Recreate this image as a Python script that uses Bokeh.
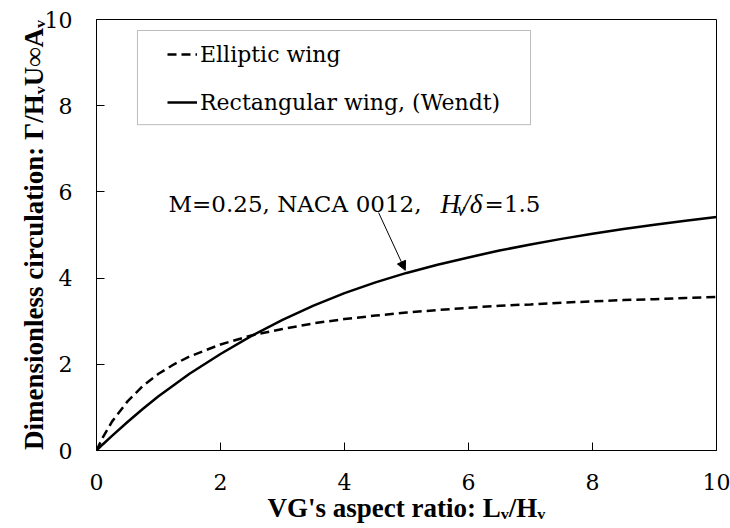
from bokeh.plotting import figure
from bokeh.models import (Range1d, Legend, LegendItem, BoxAnnotation, Arrow,
                          NormalHead, FixedTicker)
from bokeh.core.properties import value
from bokeh.embed import file_html
from bokeh.resources import INLINE

# ---- data ----
aspect_ratio = [0, 0.1, 0.25, 0.5, 0.75, 1, 1.25, 1.5, 2, 2.5, 3, 3.5, 4, 4.5, 5,
                5.5, 6, 6.5, 7, 7.5, 8, 8.5, 9, 9.5, 10]
elliptic = [0, 0.30, 0.67, 1.14, 1.50, 1.78, 2.00, 2.18, 2.46, 2.67, 2.82, 2.95, 3.05,
            3.13, 3.20, 3.26, 3.31, 3.36, 3.39, 3.43, 3.46, 3.49, 3.51, 3.54, 3.56]
rectangular = [0, 0.14, 0.34, 0.66, 0.97, 1.26, 1.52, 1.78, 2.24, 2.66, 3.03, 3.36, 3.65,
               3.90, 4.12, 4.31, 4.48, 4.64, 4.78, 4.91, 5.03, 5.14, 5.24, 5.33, 5.42]
x_ticks = [0, 2, 4, 6, 8, 10]
y_ticks = [0, 2, 4, 6, 8, 10]
legend_labels = ["Elliptic wing", "Rectangular wing, (Wendt)"]

SERIF = "Liberation Serif"      # bold / italic texts
SERIF_REG = "DejaVu Serif"      # regular texts

p = figure(width=730, height=528, output_backend="svg", toolbar_location=None,
           x_range=Range1d(0, 10), y_range=Range1d(0, 10),
           min_border_left=96, min_border_right=14, min_border_top=19,
           min_border_bottom=78)
p.background_fill_color = "white"
p.border_fill_color = "white"
p.outline_line_color = "black"
p.outline_line_width = 1
p.grid.visible = False

for ax, ticks in ((p.xaxis[0], x_ticks), (p.yaxis[0], y_ticks)):
    ax.ticker = FixedTicker(ticks=ticks)
    ax.minor_tick_line_color = None
    ax.major_tick_in = 8
    ax.major_tick_out = 0
    ax.major_tick_line_color = "black"
    ax.axis_line_color = "black"
    ax.major_label_text_font = SERIF_REG
    ax.major_label_text_font_size = "22px"
    ax.major_label_text_color = "black"
    ax.axis_label_text_font = SERIF
    ax.axis_label_text_font_size = "27px"
    ax.axis_label_text_font_style = "bold"
    ax.axis_label_text_color = "black"

p.xaxis.major_label_standoff = 23
p.yaxis.major_label_standoff = 24
p.xaxis.axis_label_standoff = 0
p.yaxis.axis_label_standoff = -7
p.xaxis.axis_label = "VG's aspect ratio: L\u1d65/H\u1d65"
p.yaxis.axis_label = "Dimensionless circulation: \u0393/H\u1d65U\u221eA\u1d65"

r_ell = p.line(aspect_ratio, elliptic, line_color="black", line_width=2.5,
               line_dash="9 5")
r_rect = p.line(aspect_ratio, rectangular, line_color="black", line_width=2.5)

p.add_layout(BoxAnnotation(left=0.661, right=7.0, top=9.745, bottom=7.56,
                           fill_alpha=0, line_color="#222222", line_width=1))

legend = Legend(items=[LegendItem(label=legend_labels[0], renderers=[r_ell]),
                       LegendItem(label=legend_labels[1], renderers=[r_rect])],
                location=(71, 324), padding=0, spacing=0, margin=0,
                glyph_width=30, glyph_height=48, label_height=48, label_standoff=3,
                border_line_alpha=0, background_fill_alpha=0,
                label_text_font=SERIF_REG, label_text_font_size="22px",
                label_text_color="black")
p.add_layout(legend)

def txt(x, y, s, size="23px", style="normal", font=SERIF_REG):
    p.text(x=[x], y=[y], text=[s], text_font=value(font), text_font_size=size,
           text_font_style=style, text_color="black", text_align="left",
           text_baseline="alphabetic")

txt(1.161, 5.73, "M=0.25, NACA")
txt(4.18, 5.73, "0012,")
txt(5.55, 5.73, "H", size="27px", style="italic", font=SERIF)
txt(5.82, 5.59, "v", size="18px", style="italic", font=SERIF)
txt(5.90, 5.73, "/\u03b4", size="27px", style="italic", font=SERIF)
txt(6.26, 5.73, "=1.5")

p.add_layout(Arrow(x_start=4.55, y_start=5.52, x_end=4.98, y_end=4.18,
                   line_color="black", line_width=1,
                   end=NormalHead(size=9, fill_color="black", line_color="black")))

open("out.html", "w").write(file_html(p, INLINE))
